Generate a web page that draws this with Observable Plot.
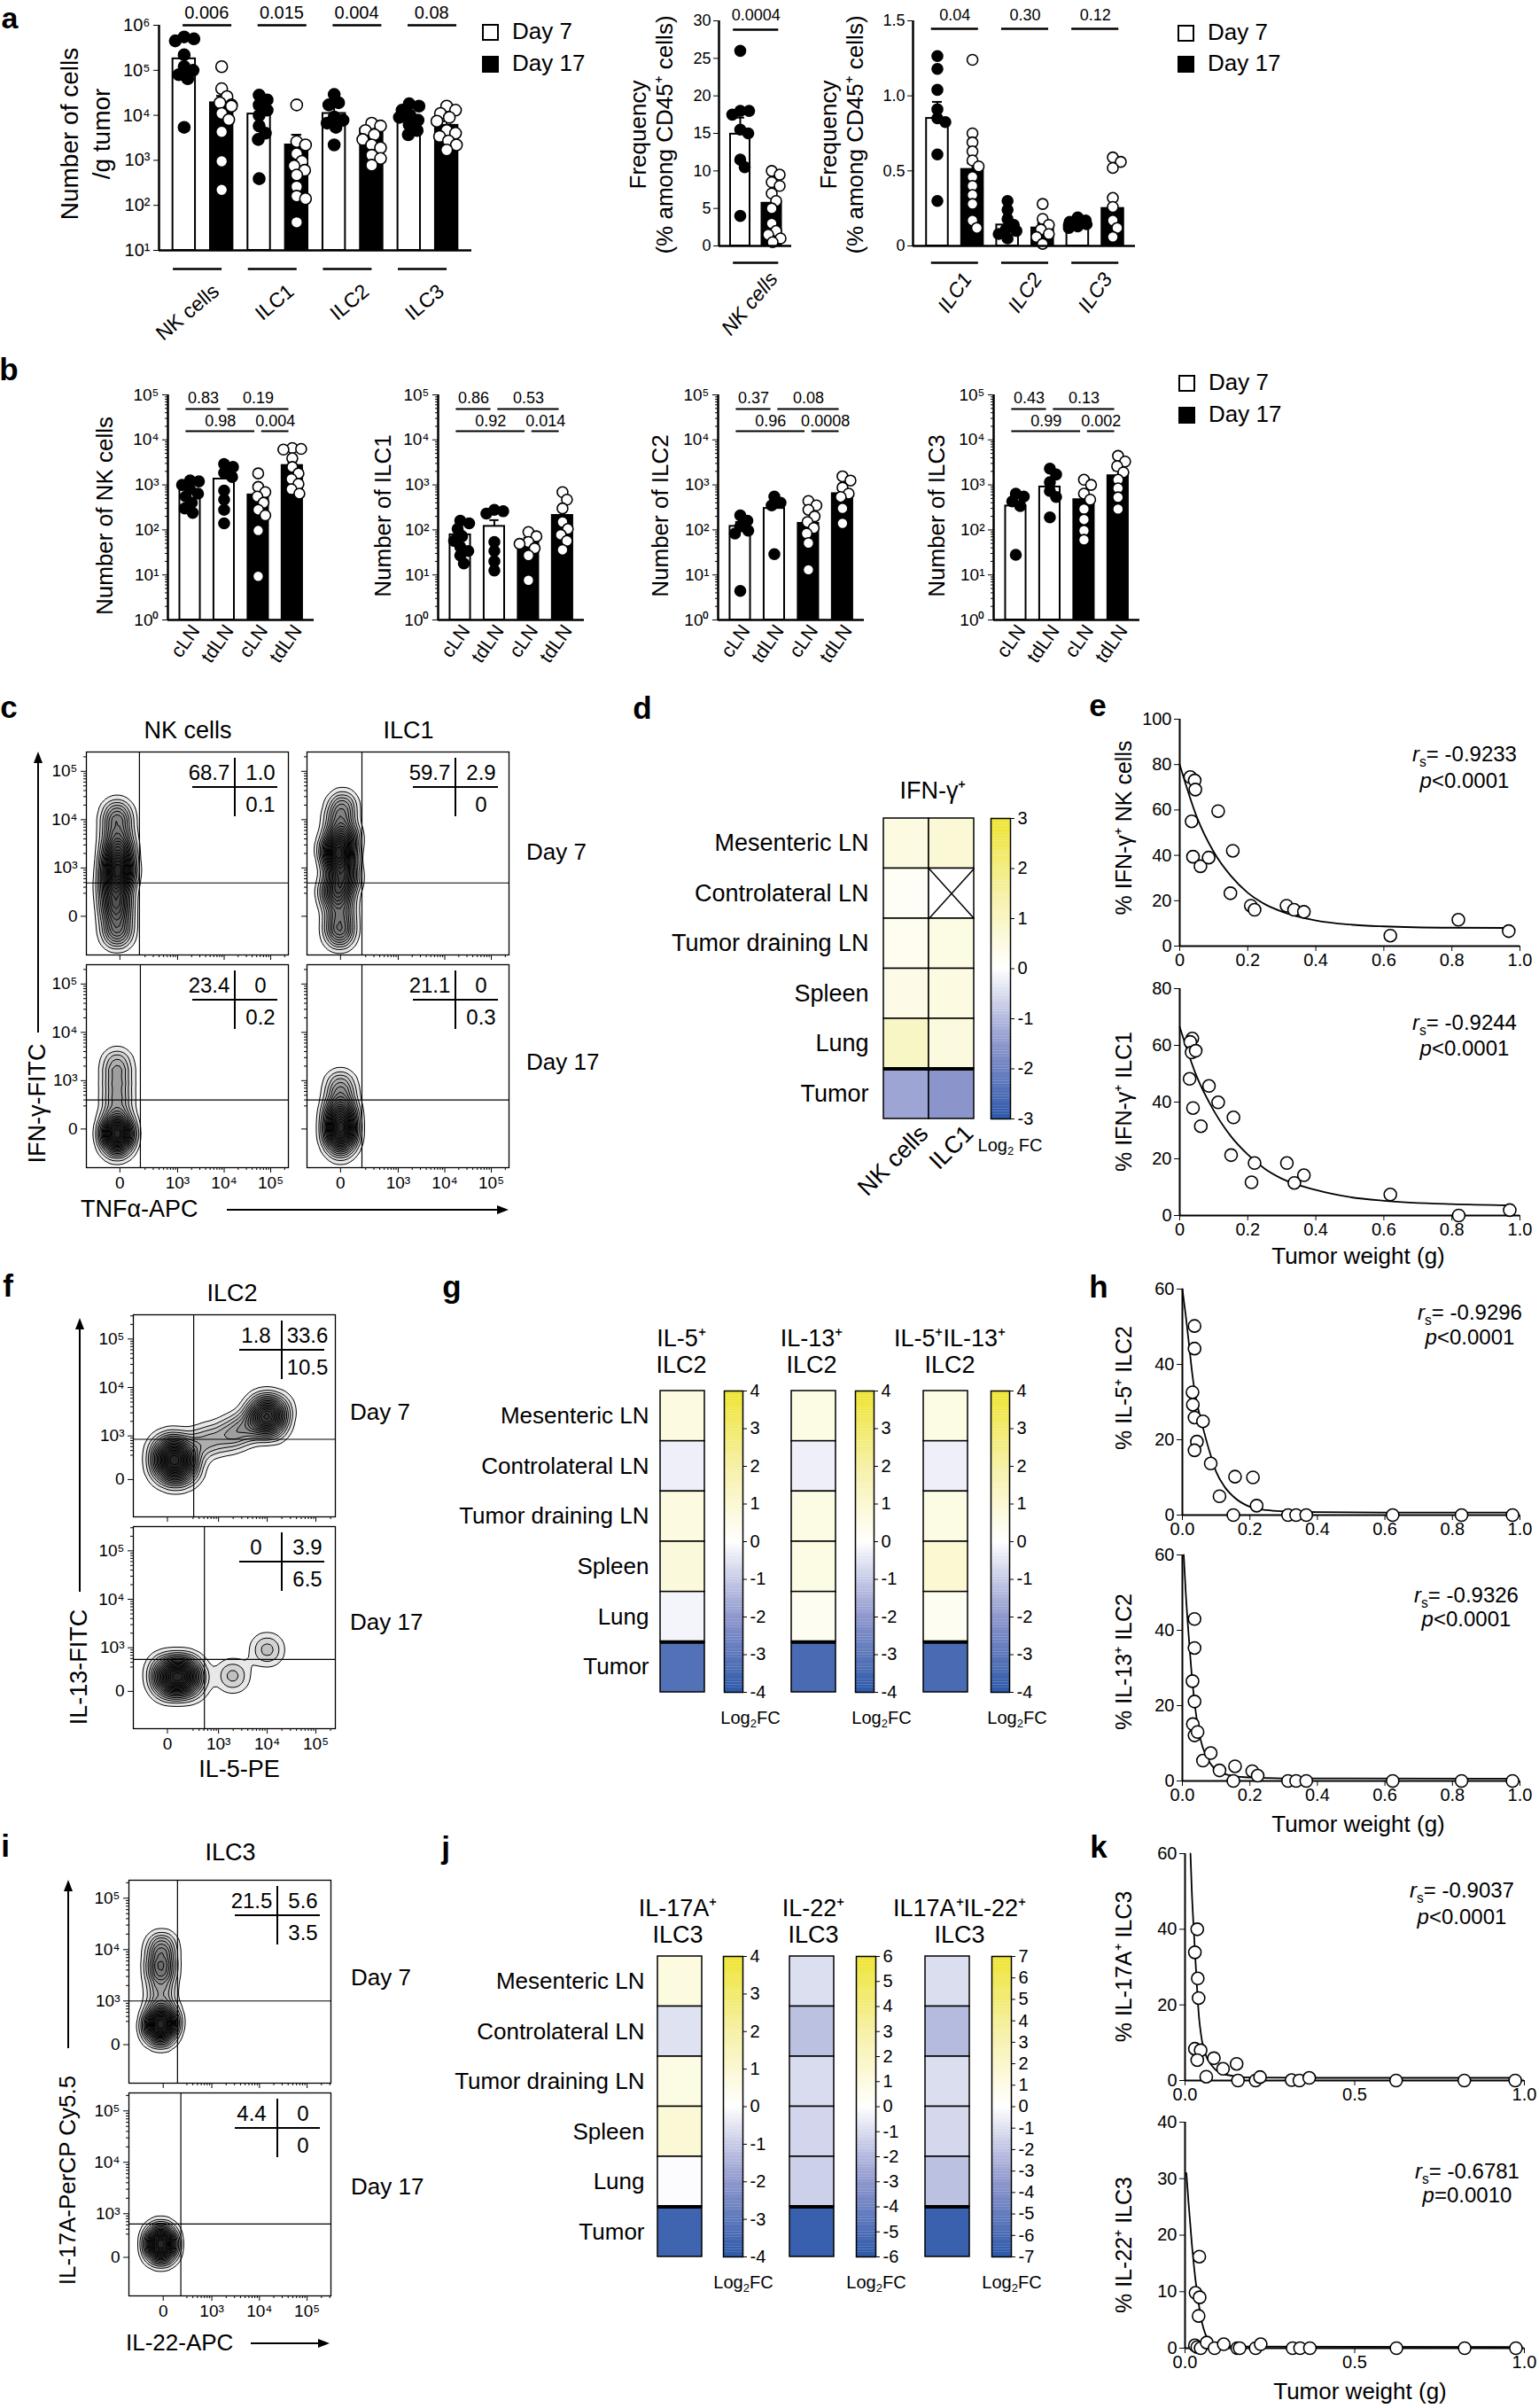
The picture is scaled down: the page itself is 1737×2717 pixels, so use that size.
<!DOCTYPE html>
<html><head><meta charset="utf-8">
<script src="https://cdn.jsdelivr.net/npm/d3@7"></script>
<script src="https://cdn.jsdelivr.net/npm/@observablehq/plot@0.6"></script>
<style>
html,body{margin:0;padding:0;background:#fff;}
#root{position:relative;width:1737px;height:2717px;overflow:hidden;background:#fff;font-family:"Liberation Sans",Arial,Helvetica,sans-serif;color:#000;}
.t{position:absolute;white-space:nowrap;line-height:1.15;text-align:center;}
.t sub{font-size:0.65em;vertical-align:-0.35em;line-height:0;}
.sq{position:absolute;width:19px;height:19px;box-sizing:border-box;border:2.5px solid #000;}
</style></head><body><div id="root"></div>
<script>
// ================= DATA =================
// a — counts per g tumor
const aCells = ["NK cells", "ILC1", "ILC2", "ILC3"];
const aDays = ["Day 7", "Day 17"];
const aCountPts = [
  [[5.5e5,5e5,4.5e5,2.2e5,1.2e5,1e5,8e4,6.5e4,5.4e3],[1.2e5,3.9e4,2.6e4,1.9e4,1.7e4,1.6e4,1.1e4,8e3,4.3e3,9.5e2,2.2e2]],
  [[2.8e4,2.2e4,1.7e4,1.3e4,1e4,5.8e3,4e3,2.9e3,3.9e2],[1.7e4,2.6e3,2.2e3,1.4e3,9.5e2,7.5e2,6e2,4.7e2,2.6e2,1.6e2,1.4e2,4.2e1]],
  [[2.9e4,1.9e4,1.7e4,9.2e3,7.8e3,6.7e3,5.4e3,2.2e3],[6.7e3,5.8e3,4.6e3,3.7e3,2.9e3,2.2e3,1.9e3,1.3e3,1.1e3,7.8e2]],
  [[1.8e4,1.6e4,1.3e4,1e4,9e3,7.8e3,6.2e3,4.6e3,3.7e3],[1.6e4,1.3e4,1.1e4,9e3,7.4e3,4.6e3,4e3,3.4e3,2.7e3,2.2e3,1.7e3]]
];
const aCountMean = [[1.8e5,1.9e4],[1.07e4,2.2e3],[1.1e4,5e3],[9e3,6e3]];
const aCountSem = [[7e4,8e3],[3.5e3,1.5e3],[5e3,7e2],[1.8e3,1.4e3]];
const aCountP = ["0.006","0.015","0.004","0.08"];
// a — frequency among CD45+
const aFreqNKPts = [[26,18,18,17.5,15.5,15,11.5,10.5,4],[10,9.5,8.5,8,7,6,5,3,2,1.5,1,0.5]];
const aFreqNKMean = [14.9,5.7];
const aFreqNKSem = [2.2,1.0];
const aFreqNKP = ["0.0004"];
const aFreqILC = ["ILC1","ILC2","ILC3"];
const aFreqILCPts = [
  [[1.265,1.18,1.04,0.91,0.85,0.825,0.61,0.3],[1.24,0.75,0.69,0.63,0.57,0.53,0.46,0.4,0.34,0.28,0.17,0.12]],
  [[0.3,0.24,0.18,0.14,0.11,0.08,0.05,0.1],[0.28,0.18,0.14,0.11,0.08,0.06,0.014]],
  [[0.19,0.17,0.16,0.145,0.13,0.12,0.14],[0.59,0.56,0.52,0.32,0.26,0.17,0.12,0.06]]
];
const aFreqILCMean = [[0.85,0.51],[0.14,0.12],[0.14,0.25]];
const aFreqILCSem = [[0.11,0.04],[0.035,0.03],[0.01,0.07]];
const aFreqILCP = ["0.04","0.30","0.12"];
// b — lymph nodes
const bCells = ["NK cells","ILC1","ILC2","ILC3"];
const bSites = ["cLN","tdLN","cLN","tdLN"];
const bPts = [
  [[1.26e3,1.2e3,1e3,8e2,6.4e2,5.5e2,4e2,3e2,2.4e2],[2.9e3,2.5e3,1.85e3,1.5e3,7.5e2,4.7e2,2.8e2,1.4e2],[1.8e3,9e2,6.9e2,5.5e2,4e2,2.8e2,2.1e2,9.7e1,9.3],[6.6e3,6.3e3,6.1e3,3.9e3,2.5e3,1.8e3,1.35e3,1.05e3,8e2,6.4e2]],
  [[1.6e2,1.4e2,1.05e2,7.2e1,5.7e1,4.2e1,3.4e1,2.7e1,1.8e1],[2.8e2,2.6e2,2.3e2,5.4e1,3.4e1,2e1,1.25e1],[9e1,7.2e1,5.4e1,4.9e1,3.9e1,2.7e1,7.6],[6.9e2,4.7e2,3e2,1.5e2,1.05e2,7.8e1,5.7e1,3.6e1]],
  [[2.1e2,1.6e2,1.2e2,9.6e1,8.3e1,4.4],[5.5e2,4e2,3.5e2,2.9e1],[4.4e2,3.5e2,2.8e2,2e2,1.5e2,1.1e2,8.3e1,5.1e1,1.3e1],[1.55e3,1.25e3,8.7e2,6.4e2,5.4e2,3e2,1.4e2]],
  [[6.4e2,5.5e2,4.3e2,3.4e2,2.8e1],[2.3e3,1.7e3,1.15e3,7.3e2,5.4e2,1.9e2],[1.3e3,1e3,6.4e2,4.7e2,2.9e2,1.7e2,9.6e1,6e1],[4.4e3,3.3e3,2.6e3,1.9e3,1.3e3,8.4e2,5.3e2,2.9e2]]
];
const bMean = [[7.7e2,1.35e3,6e2,2.7e3],[7.8e1,1.2e2,5.7e1,2.1e2],[1.2e2,3e2,1.4e2,6.4e2],[3.4e2,9e2,4.7e2,1.6e3]];
const bSem = [[1.3e2,4.5e2,2e2,7e2],[1.6e1,4.5e1,1e1,8e1],[3e1,8e1,4e1,1.4e2],[9e1,2.6e2,1.2e2,5e2]];
const bP1 = [["0.83","0.19"],["0.86","0.53"],["0.37","0.08"],["0.43","0.13"]];
const bP2 = [["0.98","0.004"],["0.92","0.014"],["0.96","0.0008"],["0.99","0.002"]];
const bPairs1 = [[0,1],[1,3]];
const bPairs2 = [[0,2],[2,3]];
// c, f, i — flow cytometry (events in display units, quadrant gates, quadrant %)
const cCols = ["NK cells","ILC1"];
const flowDays = ["Day 7","Day 17"];
const cEvents = [
  [[[1.7,1.8],[1.7,2.1],[1.7,2.4],[1.7,2.7],[1.7,3.0],[1.7,3.3],[1.7,3.6],[1.7,3.9],[1.62,2.6],[1.78,2.9],[1.7,2.9],[1.7,3.1],[1.65,2.2],[1.75,3.4],[1.7,4.15],[1.7,1.6]],
   [[1.74,1.8],[1.74,2.1],[1.74,2.4],[1.74,2.7],[1.74,3.0],[1.74,3.2],[1.74,3.2],[1.74,3.4],[1.74,3.7],[1.74,4.0],[1.6,2.5],[1.88,2.8],[1.6,3.4],[1.88,3.6],[1.8,4.3],[1.74,1.6]]],
  [[[1.7,1.6],[1.7,1.8],[1.7,1.8],[1.7,2.0],[1.7,2.0],[1.7,2.2],[1.62,1.9],[1.78,1.9],[1.7,2.5],[1.7,2.8],[1.7,3.1],[1.7,3.4]],
   [[1.76,1.6],[1.76,1.8],[1.76,2.0],[1.76,2.0],[1.76,2.2],[1.76,2.45],[1.76,2.7],[1.76,2.95],[1.65,1.9],[1.87,1.9],[1.68,2.3],[1.84,2.3]]]
];
const cGates = [[[2.18,2.69],[2.22,2.69]],[[2.2,2.6],[2.22,2.6]]];
const cStats = [[["68.7","1.0","0.1"],["59.7","2.9","0"]],[["23.4","0","0.2"],["21.1","0","0.3"]]];
const fEvents = [
  [[2.1,2.5],[2.1,2.5],[2.1,2.5],[1.85,2.35],[2.35,2.65],[2.1,2.2],[2.1,2.8],[1.85,2.7],[2.35,2.3],[2.75,2.9],[3.2,3.0],[3.5,3.15],[3.8,3.3],[4.0,3.4],[4.0,3.4],[4.2,3.55],[3.9,3.6],[4.1,3.2]],
  [[2.16,2.4],[2.16,2.4],[2.16,2.4],[1.85,2.35],[2.45,2.45],[2.0,2.2],[2.3,2.6],[1.9,2.6],[2.4,2.2],[3.29,2.42],[4.0,2.96]]
];
const fGates = [[2.49,2.93],[2.71,2.76]];
const fStats = [["1.8","33.6","10.5"],["0","3.9","6.5"]];
const iEvents = [
  [[1.93,2.56],[1.93,2.56],[1.93,2.56],[1.93,2.3],[1.93,2.85],[1.8,2.5],[2.06,2.6],[1.93,3.2],[1.93,3.6],[1.93,3.6],[1.93,3.9],[1.95,4.1]],
  [[1.93,2.41],[1.93,2.41],[1.93,2.41],[1.93,2.2],[1.93,2.65],[1.85,2.4],[2.01,2.4]]
];
const iGates = [[2.28,3.0],[2.35,2.8]];
const iStats = [["21.5","5.6","3.5"],["4.4","0","0"]];
// d, g, j — heatmaps (log2 FC)
const sites = ["Mesenteric LN","Controlateral LN","Tumor draining LN","Spleen","Lung","Tumor"];
const dCols = ["NK cells","ILC1"];
const dVals = [[0.5,0.15,0.25,0.4,0.95,-1.3],[0.7,null,0.45,0.5,0.55,-1.55]];
const dMax = 3;
const gTitles = [["IL-5⁺","ILC2"],["IL-13⁺","ILC2"],["IL-5⁺IL-13⁺","ILC2"]];
const gVals = [[0.7,-0.3,0.7,0.8,-0.2,-3.2],[0.6,-0.3,0.6,0.6,0.3,-3.4],[0.6,-0.3,0.6,1.0,0.3,-3.4]];
const gMax = [4,4,4];
const jTitles = [["IL-17A⁺","ILC3"],["IL-22⁺","ILC3"],["IL17A⁺IL-22⁺","ILC3"]];
const jVals = [[0.7,-0.56,0.6,0.9,-0.05,-3.6],[-0.92,-1.8,-1.0,-1.2,-1.35,-5.6],[-1.1,-2.3,-1.1,-1.3,-2.1,-6.5]];
const jMax = [4,6,7];
// e, h, k — correlations with tumour weight
const eNKPts = [[0.031,74.5],[0.044,73],[0.046,69],[0.035,55],[0.113,59.5],[0.039,39.4],[0.061,35.2],[0.085,39],[0.156,42],[0.149,23.3],[0.209,17.8],[0.22,16],[0.314,17.8],[0.336,16],[0.365,15.1],[0.619,4.6],[0.819,11.6],[0.967,6.6]];
const eNKFit = [[0,80],[0.05,57],[0.1,41.5],[0.15,31],[0.2,23.5],[0.25,18.5],[0.3,15.2],[0.4,11.3],[0.5,9.5],[0.6,8.7],[0.8,8.1],[0.97,8]];
const eILC1Pts = [[0.037,62.4],[0.031,61.2],[0.035,57.5],[0.047,58.1],[0.029,48.2],[0.086,45.7],[0.113,39.9],[0.039,37.9],[0.062,31.5],[0.158,34.6],[0.151,21.3],[0.22,18.5],[0.211,11.7],[0.315,18.5],[0.337,11.5],[0.365,14.2],[0.619,7.4],[0.82,0],[0.97,1.9]];
const eILC1Fit = [[0,66.5],[0.05,49],[0.1,37],[0.15,28],[0.2,21.5],[0.25,16.5],[0.3,13],[0.4,9],[0.5,6.5],[0.6,5.2],[0.8,4],[0.97,3.6]];
const hIL5Pts = [[0.036,50.2],[0.036,44.2],[0.03,32.6],[0.031,29.3],[0.036,25.9],[0.061,24.9],[0.043,19.5],[0.036,17.2],[0.084,13.7],[0.156,10.2],[0.209,10],[0.11,5],[0.22,2.5],[0.151,0],[0.313,0],[0.337,0],[0.367,0],[0.623,0],[0.827,0],[0.978,0]];
const hIL5Fit = [[0,60],[0.01,53],[0.02,45],[0.03,37],[0.04,31],[0.05,27],[0.06,23.5],[0.08,17],[0.1,11.5],[0.125,7.5],[0.15,5],[0.2,2.2],[0.25,1.3],[0.3,1],[0.4,0.8],[0.6,0.7],[0.978,0.7]];
const hIL13Pts = [[0.036,43],[0.036,35.3],[0.03,26.5],[0.036,21.1],[0.031,15.1],[0.036,12.1],[0.045,13],[0.061,5.4],[0.084,7.4],[0.11,2.8],[0.156,3.9],[0.207,2.6],[0.223,1.4],[0.151,0],[0.313,0],[0.337,0],[0.367,0],[0.623,0],[0.827,0],[0.978,0]];
const hIL13Fit = [[0.004,60],[0.01,50],[0.02,37],[0.03,26],[0.04,18],[0.05,12.5],[0.06,9],[0.08,5],[0.1,3],[0.15,1.3],[0.2,0.9],[0.3,0.7],[0.978,0.6]];
const kIL17Pts = [[0.036,40],[0.029,33.9],[0.0375,27],[0.04,21.8],[0.029,8.4],[0.046,8],[0.036,5.4],[0.085,5.9],[0.0625,1],[0.112,3.1],[0.152,4.4],[0.156,0],[0.208,0],[0.221,0.9],[0.314,0.1],[0.337,0],[0.366,0.7],[0.622,0],[0.823,0],[0.973,0]];
const kIL17Fit = [[0.016,60],[0.02,50],[0.025,41],[0.03,33],[0.035,25],[0.04,18],[0.05,10.5],[0.06,7],[0.08,3.8],[0.1,2.2],[0.15,1.1],[0.2,0.8],[0.4,0.7],[0.973,0.7]];
const kIL22Pts = [[0.042,16.2],[0.031,9.8],[0.043,9],[0.04,5.7],[0.029,0.5],[0.036,0.2],[0.046,0],[0.064,1],[0.087,0],[0.114,0.7],[0.154,0],[0.161,0],[0.208,0],[0.223,0.7],[0.317,0],[0.339,0],[0.368,0],[0.623,0],[0.824,0],[0.975,0]];
const kIL22Fit = [[0.004,31],[0.01,26],[0.02,18.5],[0.03,12.5],[0.04,8],[0.05,4.5],[0.06,2.5],[0.08,0.8],[0.12,0.3],[0.975,0.2]];
const corrStats = [["-0.9233","&lt;0.0001"],["-0.9244","&lt;0.0001"],["-0.9296","&lt;0.0001"],["-0.9326","&lt;0.0001"],["-0.9037","&lt;0.0001"],["-0.6781","=0.0010"]];

// ================= HELPERS =================
const FONT = '"Liberation Sans", Arial, Helvetica, sans-serif';
const SUP = "⁰¹²³⁴⁵⁶⁷⁸⁹";
const pow10 = p => "10" + SUP[p];
const root = document.getElementById("root");
const crosses = [];

function txt(html, x, y, o = {}) {
  const d = document.createElement("div");
  d.className = "t";
  d.innerHTML = html;
  d.style.left = x + "px"; d.style.top = y + "px";
  d.style.fontSize = (o.size || 20) + "px";
  if (o.bold) d.style.fontWeight = "bold";
  if (o.italic) d.style.fontStyle = "italic";
  if (o.lh) d.style.lineHeight = o.lh;
  const tx = o.anchor === "start" ? "0" : o.anchor === "end" ? "-100%" : "-50%";
  d.style.transform = `translate(${tx},-50%)` + (o.rotate ? ` rotate(${o.rotate}deg)` : "");
  root.appendChild(d);
  return d;
}
function sq(x, y, filled) {
  const d = document.createElement("div");
  d.className = "sq";
  d.style.left = x + "px"; d.style.top = y + "px";
  d.style.background = filled ? "#000" : "#fff";
  root.appendChild(d);
}
function legend(x, y1, y2) {
  sq(x, y1 - 9.5, false); txt("Day 7", x + 34, y1, {size: 26, anchor: "start"});
  sq(x, y2 - 9.5, true); txt("Day 17", x + 34, y2, {size: 26, anchor: "start"});
}
function mk(fr, m, opts) {
  const [mt, mr, mb, ml] = m;
  const svg = Plot.plot({
    width: fr.w + ml + mr, height: fr.h + mt + mb,
    marginTop: mt, marginRight: mr, marginBottom: mb, marginLeft: ml,
    style: {fontFamily: FONT, fontSize: "19px", overflow: "visible", background: "transparent", maxWidth: "none"},
    ...opts
  });
  svg.style.position = "absolute";
  svg.style.left = (fr.x - ml) + "px";
  svg.style.top = (fr.y - mt) + "px";
  root.appendChild(svg);
  return svg;
}
function swarm(vals, ys, r, maxOff, tight = 0.8) {
  const n = vals.length, py = vals.map(v => ys(v)), off = new Array(n).fill(0);
  const order = d3.range(n).sort((a, b) => py[a] - py[b]);
  const placed = [], D = 2 * r * tight;
  for (const i of order) {
    let found = false;
    for (let k = 0; k <= 2 * maxOff; k++) {
      const o = (k % 2 ? 1 : -1) * Math.ceil(k / 2);
      if (placed.every(j => Math.hypot(o - off[j], py[i] - py[j]) >= D)) { off[i] = o; found = true; break; }
    }
    if (!found) off[i] = (placed.length % 2 ? 1 : -1) * maxOff;
    placed.push(i);
  }
  return off;
}
function colorFn(m) {
  return d3.scaleLinear().domain([-m, -m / 2, 0, m / 2, m])
    .range(["#2c58a9", "#8e97cd", "#ffffff", "#f6f0a4", "#eee431"]).clamp(true);
}
function barChart(cfg) {
  const ppu = cfg.fr.w / (cfg.xd[1] - cfg.xd[0]);
  const dots = [];
  for (const b of cfg.bars) {
    const off = swarm(b.vals, cfg.ys, cfg.r, cfg.maxOff);
    b.vals.forEach((v, j) => dots.push({x: b.i + off[j] / ppu, y: v, day: b.day}));
  }
  const base = cfg.y.domain[0];
  return mk(cfg.fr, cfg.m, {
    x: {domain: cfg.xd}, y: cfg.y,
    marks: [
      Plot.rectY(cfg.bars, {x1: d => d.i - cfg.hw, x2: d => d.i + cfg.hw, y1: () => base, y2: "mean", fill: d => d.day ? "#000" : "#fff", stroke: "#000", strokeWidth: 2}),
      Plot.ruleX(cfg.bars, {x: "i", y1: "mean", y2: d => d.mean + d.sem, stroke: "#000", strokeWidth: 2}),
      Plot.ruleY(cfg.bars, {y: d => d.mean + d.sem, x1: d => d.i - cfg.hw * 0.45, x2: d => d.i + cfg.hw * 0.45, stroke: "#000", strokeWidth: 2}),
      Plot.dot(dots, {x: "x", y: "y", r: cfg.r, fill: d => d.day ? "#fff" : "#000", stroke: "#000", strokeWidth: 1.6}),
      Plot.ruleX([cfg.xd[0]], {stroke: "#000", strokeWidth: 2.5}),
      Plot.ruleY([base], {stroke: "#000", strokeWidth: 2.5}),
      ...cfg.extra
    ]
  });
}
function flow(fr, ax, pts, gate, stats, showX, showY) {
  const minorX = [], minorY = [];
  for (let d = 2; d <= 5; d++) for (let k = 2; k < 10; k++) {
    const u = d + Math.log10(k);
    if (u > ax.x0 + 0.45 && u < ax.xd[1]) minorX.push(u);
    if (u > ax.y0 + 0.45 && u < ax.yd[1]) minorY.push(u);
  }
  const fx = v => v === ax.x0 ? "0" : pow10(v);
  const fy = v => v === ax.y0 ? "0" : pow10(v);
  mk(fr, [2, 2, 45, 55], {
    x: {domain: ax.xd}, y: {domain: ax.yd},
    marks: [
      Plot.density(pts, {x: d => d[0], y: d => d[1], bandwidth: ax.bw, thresholds: 20, fill: "#000", fillOpacity: 0.09, stroke: "#000", strokeWidth: 1, clip: true}),
      Plot.ruleX([gate[0]], {stroke: "#000", strokeWidth: 1.2}),
      Plot.ruleY([gate[1]], {stroke: "#000", strokeWidth: 1.2}),
      Plot.frame({stroke: "#000", strokeWidth: 1.3}),
      Plot.axisX([ax.x0, 3, 4, 5], {tickSize: 6, tickPadding: 4, tickFormat: showX ? fx : () => "", fontSize: 19, label: null}),
      Plot.axisX(minorX, {tickSize: 3, tickFormat: () => "", label: null}),
      Plot.axisY([ax.y0, 3, 4, 5], {tickSize: 6, tickPadding: 4, tickFormat: showY ? fy : () => "", fontSize: 19, label: null}),
      Plot.axisY(minorY, {tickSize: 3, tickFormat: () => "", label: null})
    ]
  });
  const cx = fr.x + 168, cy = fr.y + 40;
  crosses.push([cx, cy]);
  txt(stats[0], cx - 29, cy - 16, {size: 24});
  txt(stats[1], cx + 29, cy - 16, {size: 24});
  txt(stats[2], cx + 29, cy + 20, {size: 24});
}
function heat(fr, vals, m, opt = {}) {
  const n = sites.length, nc = vals.length, cf = colorFn(m);
  const cells = [];
  vals.forEach((col, c) => col.forEach((v, r) => cells.push({c, r, v})));
  const miss = cells.filter(d => d.v == null);
  const marks = [
    Plot.rect(cells, {x1: "c", x2: d => d.c + 1, y1: "r", y2: d => d.r + 1, fill: d => d.v == null ? "#ffffff" : cf(d.v), stroke: "#000", strokeWidth: 1.5}),
    Plot.link(miss, {x1: "c", y1: "r", x2: d => d.c + 1, y2: d => d.r + 1, stroke: "#000", strokeWidth: 1.5}),
    Plot.link(miss, {x1: "c", y1: d => d.r + 1, x2: d => d.c + 1, y2: "r", stroke: "#000", strokeWidth: 1.5}),
    Plot.ruleY([n - 1], {stroke: "#000", strokeWidth: 4})
  ];
  const x = {domain: [0, nc]}, y = {domain: [n, 0]};
  if (opt.rows) marks.push(Plot.axisY(d3.range(n).map(r => r + 0.5), {tickFormat: v => sites[Math.floor(v)], tickSize: 0, tickPadding: opt.pad, fontSize: opt.rowSize, label: null}));
  else y.axis = null;
  if (opt.cols) marks.push(Plot.axisX(d3.range(nc).map(c => c + 0.5), {tickFormat: v => opt.cols[Math.floor(v)], tickSize: 0, tickPadding: 12, tickRotate: -45, dx: 20, fontSize: 27, label: null}));
  else x.axis = null;
  mk(fr, [4, 4, opt.cols ? 130 : 4, opt.rows ? 260 : 4], {x, y, marks});
}
function cbar(fr, m) {
  const step = m / 60, cf = colorFn(m);
  const ramp = d3.range(-m, m, step);
  mk(fr, [4, 45, 4, 4], {
    x: {domain: [0, 1], axis: null}, y: {domain: [-m, m]},
    marks: [
      Plot.rect(ramp, {x1: () => 0, x2: () => 1, y1: d => d, y2: d => d + step * 1.05, fill: d => cf(d + step / 2)}),
      Plot.frame({stroke: "#000", strokeWidth: 1.5}),
      Plot.axisY(d3.range(-m, m + 1), {anchor: "right", tickSize: 4, tickPadding: 4, fontSize: 20, tickFormat: d => String(d), label: null})
    ]
  });
}
function scat(fr, yd, yt, xt, xfmt, pts, fit) {
  mk(fr, [12, 25, 40, 60], {
    x: {domain: [0, 1]}, y: {domain: yd},
    marks: [
      Plot.ruleX([0], {stroke: "#000", strokeWidth: 2}),
      Plot.ruleY([0], {stroke: "#000", strokeWidth: 2}),
      Plot.line(fit, {x: d => d[0], y: d => d[1], curve: "monotone-x", stroke: "#000", strokeWidth: 1.8}),
      Plot.dot(pts, {x: d => d[0], y: d => d[1], r: 7, fill: "#fff", stroke: "#000", strokeWidth: 1.6}),
      Plot.axisX(xt, {tickSize: 6, tickPadding: 2, tickFormat: xfmt, fontSize: 20, label: null}),
      Plot.axisY(yt, {tickSize: 6, tickPadding: 3, fontSize: 20, label: null})
    ]
  });
}
function ann(cx, y1, y2, s) {
  txt(`<i>r</i><sub>s</sub>= ${s[0]}`, cx, y1, {size: 24});
  txt(`<i>p</i>${s[1]}`, cx, y2, {size: 24});
}

// ================= PANEL a =================
txt("a", 11, 21, {size: 34, bold: true});
{
  const fr = {x: 179, y: 28, w: 353, h: 254};
  const xd = [-0.67, 7.67];
  const bars = [];
  aCells.forEach((c, g) => aDays.forEach((_, k) => bars.push({i: g * 2 + k, day: k, mean: aCountMean[g][k], sem: aCountSem[g][k], vals: aCountPts[g][k]})));
  const G = aCells.map((c, g) => ({c: g * 2 + 0.5, p: aCountP[g]}));
  barChart({fr, xd, m: [34, 12, 130, 80], y: {type: "log", domain: [10, 1e6]}, ys: d3.scaleLog([10, 1e6], [fr.h, 0]), bars, r: 6.5, maxOff: 11, hw: 0.3, extra: [
    Plot.ruleY(G, {y: () => 1e6, x1: d => d.c - 0.53, x2: d => d.c + 0.77, stroke: "#000", strokeWidth: 2.5}),
    Plot.text(G, {x: d => d.c + 0.1, y: () => 1e6, dy: -14, text: "p", fontSize: 20}),
    Plot.ruleY(G, {y: () => 10, dy: 21, x1: d => d.c - 0.79, x2: d => d.c + 0.51, stroke: "#000", strokeWidth: 2.5}),
    Plot.axisY([1e1, 1e2, 1e3, 1e4, 1e5, 1e6], {tickFormat: d => pow10(Math.round(Math.log10(d))), tickSize: 6, tickPadding: 4, fontSize: 20, label: null}),
    Plot.axisX(G.map(d => d.c), {tickFormat: d => aCells[Math.round((d - 0.5) / 2)], tickSize: 0, tickPadding: 43, tickRotate: -40, dx: 15, fontSize: 23, label: null})
  ]});
  txt("Number of cells<br>/g tumor", 97, 151, {size: 28, rotate: -90, lh: "36px"});
  legend(544, 36, 72);
}
{
  const fr = {x: 811, y: 23, w: 82, h: 254};
  const bars = aFreqNKPts.map((vals, k) => ({i: k, day: k, mean: aFreqNKMean[k], sem: aFreqNKSem[k], vals}));
  const G = [{c: 0.5, p: aFreqNKP[0]}];
  barChart({fr, xd: [-0.676, 1.634], m: [30, 10, 120, 45], y: {domain: [0, 30]}, ys: d3.scaleLinear([0, 30], [fr.h, 0]), bars, r: 6, maxOff: 10, hw: 0.31, extra: [
    Plot.ruleY(G, {y: () => 30, dy: 10, x1: d => d.c - 0.72, x2: d => d.c + 0.72, stroke: "#000", strokeWidth: 2.5}),
    Plot.text(G, {x: "c", y: () => 30, dy: -6, text: "p", fontSize: 18}),
    Plot.ruleY(G, {y: () => 0, dy: 19, x1: d => d.c - 0.72, x2: d => d.c + 0.72, stroke: "#000", strokeWidth: 2.5}),
    Plot.axisY([0, 5, 10, 15, 20, 25, 30], {tickSize: 6, tickPadding: 3, fontSize: 18, label: null}),
    Plot.axisX([0.5], {tickFormat: () => "NK cells", tickSize: 0, tickPadding: 33, tickRotate: -50, dx: 20, fontSize: 23, fontStyle: "italic", label: null})
  ]});
  txt("Frequency<br>(% among CD45⁺ cells)", 735, 152, {size: 26, rotate: -90, lh: "30px"});
}
{
  const fr = {x: 1030, y: 23, w: 251, h: 254};
  const bars = [];
  aFreqILC.forEach((c, g) => aDays.forEach((_, k) => bars.push({i: g * 2 + k, day: k, mean: aFreqILCMean[g][k], sem: aFreqILCSem[g][k], vals: aFreqILCPts[g][k]})));
  const G = aFreqILC.map((c, g) => ({c: g * 2 + 0.5, p: aFreqILCP[g]}));
  barChart({fr, xd: [-0.694, 5.644], m: [30, 10, 120, 45], y: {domain: [0, 1.5]}, ys: d3.scaleLinear([0, 1.5], [fr.h, 0]), bars, r: 6, maxOff: 10, hw: 0.31, extra: [
    Plot.ruleY(G, {y: () => 1.5, dy: 9, x1: d => d.c - 0.67, x2: d => d.c + 0.67, stroke: "#000", strokeWidth: 2.5}),
    Plot.text(G, {x: "c", y: () => 1.5, dy: -6, text: "p", fontSize: 18}),
    Plot.ruleY(G, {y: () => 0, dy: 19, x1: d => d.c - 0.67, x2: d => d.c + 0.67, stroke: "#000", strokeWidth: 2.5}),
    Plot.axisY([0, 0.5, 1, 1.5], {tickSize: 6, tickPadding: 3, fontSize: 18, tickFormat: d => d === 0 ? "0" : d.toFixed(1), label: null}),
    Plot.axisX(G.map(d => d.c), {tickFormat: d => aFreqILC[Math.round((d - 0.5) / 2)], tickSize: 0, tickPadding: 33, tickRotate: -55, dx: 14, fontSize: 23, fontStyle: "italic", label: null})
  ]});
  txt("Frequency<br>(% among CD45⁺ cells)", 950, 152, {size: 26, rotate: -90, lh: "30px"});
  legend(1329, 37, 72);
}

// ================= PANEL b =================
txt("b", 10, 417, {size: 35, bold: true});
{
  const bAxisX = [189, 494, 810, 1121];
  const bTitleX = [119, 433, 746, 1058];
  const minor = [];
  for (let p = 0; p < 5; p++) for (let k = 2; k < 10; k++) minor.push(k * 10 ** p);
  bCells.forEach((cell, n) => {
    const fr = {x: bAxisX[n], y: 445, w: 165, h: 254};
    const bars = bSites.map((s, i) => ({i, day: i >= 2 ? 1 : 0, mean: bMean[n][i], sem: bSem[n][i], vals: bPts[n][i]}));
    const row1 = bPairs1.map(([a, b], k) => ({x1: a - 0.12 + (k ? 0.22 : 0), x2: b - 0.1, p: bP1[n][k]}));
    const row2 = bPairs2.map(([a, b], k) => ({x1: a - 0.12 + (k ? 0.22 : 0), x2: b - 0.1, p: bP2[n][k]}));
    barChart({fr, xd: [-0.65, 3.64], m: [12, 10, 70, 60], y: {type: "log", domain: [1, 1e5]}, ys: d3.scaleLog([1, 1e5], [fr.h, 0]), bars, r: 6, maxOff: 10, hw: 0.3, extra: [
      Plot.ruleY(row1, {y: () => 1e5, dy: 16, x1: "x1", x2: "x2", stroke: "#000", strokeWidth: 2}),
      Plot.text(row1, {x: d => (d.x1 + d.x2) / 2, y: () => 1e5, dy: 4, text: "p", fontSize: 18}),
      Plot.ruleY(row2, {y: () => 1e5, dy: 41, x1: "x1", x2: "x2", stroke: "#000", strokeWidth: 2}),
      Plot.text(row2, {x: d => (d.x1 + d.x2) / 2, y: () => 1e5, dy: 30, text: "p", fontSize: 18}),
      Plot.axisY([1, 10, 100, 1e3, 1e4, 1e5], {tickFormat: d => pow10(Math.round(Math.log10(d))), tickSize: 6, tickPadding: 4, fontSize: 19, label: null}),
      Plot.axisY(minor, {tickSize: 3, tickFormat: () => "", label: null}),
      Plot.axisX([0, 1, 2, 3], {tickFormat: i => bSites[i], tickSize: 0, tickPadding: 8, tickRotate: -55, dx: 6, fontSize: 22, label: null})
    ]});
    txt("Number of " + cell, bTitleX[n], 582, {size: 26, rotate: -90});
  });
  legend(1330, 432, 468);
}

// ================= PANEL c =================
txt("c", 10, 798, {size: 35, bold: true});
{
  const ax = {xd: [1.04, 5.38], x0: 1.76, yd: [1.2, 5.4], y0: 2.0, bw: 9};
  const colX = [97, 346], rowY = [848, 1088];
  cCols.forEach((c, ci) => {
    txt(c, colX[ci] + 115, 825, {size: 27});
    flowDays.forEach((d, ri) => {
      flow({x: colX[ci], y: rowY[ri], w: 228, h: 229}, ax, cEvents[ri][ci], cGates[ri][ci], cStats[ri][ci], ri === 1, ci === 0);
    });
  });
  txt(flowDays[0], 594, 962, {size: 26, anchor: "start"});
  txt(flowDays[1], 594, 1199, {size: 26, anchor: "start"});
  txt("IFN-γ-FITC", 43, 1245, {size: 27, rotate: -90});
  txt("TNFα-APC", 91, 1365, {size: 27, anchor: "start"});
}

// ================= PANEL d =================
txt("d", 725, 799, {size: 35, bold: true});
heat({x: 997, y: 923, w: 102, h: 339}, dVals, dMax, {rows: true, pad: 17, rowSize: 27, cols: dCols});
cbar({x: 1118, y: 923, w: 22, h: 339}, dMax);
txt("IFN-γ⁺", 1053, 893, {size: 27});
txt("Log<sub>2</sub> FC", 1140, 1292, {size: 20});

// ================= PANEL e =================
txt("e", 1239, 796, {size: 35, bold: true});
scat({x: 1331, y: 811, w: 384, h: 256}, [0, 100], [0, 20, 40, 60, 80, 100], [0, 0.2, 0.4, 0.6, 0.8, 1], d => d === 0 ? "0" : d.toFixed(1), eNKPts, eNKFit);
scat({x: 1331, y: 1115, w: 384, h: 256}, [0, 80], [0, 20, 40, 60, 80], [0, 0.2, 0.4, 0.6, 0.8, 1], d => d === 0 ? "0" : d.toFixed(1), eILC1Pts, eILC1Fit);
txt("% IFN-γ⁺ NK cells", 1268, 934, {size: 25, rotate: -90});
txt("% IFN-γ⁺ ILC1", 1268, 1243, {size: 25, rotate: -90});
ann(1653, 851, 881, corrStats[0]);
ann(1653, 1154, 1183, corrStats[1]);
txt("Tumor weight (g)", 1533, 1418, {size: 26});

// ================= PANEL f =================
txt("f", 9, 1451, {size: 35, bold: true});
{
  const ax = {xd: [1.25, 5.4], x0: 1.95, yd: [1.33, 5.5], y0: 2.1, bw: 10};
  const rowY = [1483, 1722];
  flowDays.forEach((d, ri) => flow({x: 150, y: rowY[ri], w: 228, h: 228}, ax, fEvents[ri], fGates[ri], fStats[ri], ri === 1, true));
  txt("ILC2", 262, 1460, {size: 27});
  txt(flowDays[0], 395, 1594, {size: 26, anchor: "start"});
  txt(flowDays[1], 395, 1831, {size: 26, anchor: "start"});
  txt("IL-13-FITC", 90, 1881, {size: 27, rotate: -90});
  txt("IL-5-PE", 270, 1997, {size: 27});
}

// ================= PANEL g =================
txt("g", 510, 1452, {size: 35, bold: true});
{
  const colX = [745, 893, 1042], cbX = [817, 965, 1118], titleX = [769, 916, 1072];
  gVals.forEach((v, k) => {
    heat({x: colX[k], y: 1569, w: 50, h: 340}, [v], gMax[k], k === 0 ? {rows: true, pad: 13, rowSize: 26} : {});
    cbar({x: cbX[k], y: 1569, w: 21, h: 340}, gMax[k]);
    txt(gTitles[k][0], titleX[k], 1511, {size: 27});
    txt(gTitles[k][1], titleX[k], 1541, {size: 27});
    txt("Log<sub>2</sub>FC", cbX[k] + 30, 1938, {size: 20});
  });
}

// ================= PANEL h =================
txt("h", 1240, 1452, {size: 35, bold: true});
scat({x: 1334, y: 1454, w: 381, h: 255}, [0, 60], [0, 20, 40, 60], [0, 0.2, 0.4, 0.6, 0.8, 1], d => d.toFixed(1), hIL5Pts, hIL5Fit);
scat({x: 1334, y: 1754, w: 381, h: 255}, [0, 60], [0, 20, 40, 60], [0, 0.2, 0.4, 0.6, 0.8, 1], d => d.toFixed(1), hIL13Pts, hIL13Fit);
txt("% IL-5⁺ ILC2", 1268, 1566, {size: 25, rotate: -90});
txt("% IL-13⁺ ILC2", 1268, 1875, {size: 25, rotate: -90});
ann(1659, 1481, 1509, corrStats[2]);
ann(1655, 1800, 1827, corrStats[3]);
txt("Tumor weight (g)", 1533, 2059, {size: 26});

// ================= PANEL i =================
txt("i", 6, 2083, {size: 35, bold: true});
{
  const ax = {xd: [1.26, 5.5], x0: 1.98, yd: [1.4, 5.35], y0: 2.15, bw: 9};
  const rowY = [2121, 2361];
  flowDays.forEach((d, ri) => flow({x: 145, y: rowY[ri], w: 228, h: 229}, ax, iEvents[ri], iGates[ri], iStats[ri], ri === 1, true));
  txt("ILC3", 260, 2091, {size: 27});
  txt(flowDays[0], 396, 2232, {size: 26, anchor: "start"});
  txt(flowDays[1], 396, 2468, {size: 26, anchor: "start"});
  txt("IL-17A-PerCP Cy5.5", 77, 2460, {size: 26, rotate: -90});
  txt("IL-22-APC", 142, 2644, {size: 26, anchor: "start"});
}

// ================= PANEL j =================
txt("j", 503, 2085, {size: 35, bold: true});
{
  const colX = [742, 891, 1044], cbX = [816, 966, 1119], titleX = [765, 918, 1083];
  jVals.forEach((v, k) => {
    heat({x: colX[k], y: 2207, w: 50, h: 339}, [v], jMax[k], k === 0 ? {rows: true, pad: 15, rowSize: 26} : {});
    cbar({x: cbX[k], y: 2207, w: 22, h: 339}, jMax[k]);
    txt(jTitles[k][0], titleX[k], 2154, {size: 27});
    txt(jTitles[k][1], titleX[k], 2184, {size: 27});
    txt("Log<sub>2</sub>FC", cbX[k] + 23, 2575, {size: 20});
  });
}

// ================= PANEL k =================
txt("k", 1240, 2084, {size: 35, bold: true});
scat({x: 1337, y: 2091, w: 383, h: 256}, [0, 60], [0, 20, 40, 60], [0, 0.5, 1], d => d.toFixed(1), kIL17Pts, kIL17Fit);
scat({x: 1337, y: 2394, w: 383, h: 255}, [0, 40], [0, 10, 20, 30, 40], [0, 0.5, 1], d => d.toFixed(1), kIL22Pts, kIL22Fit);
txt("% IL-17A⁺ ILC3", 1268, 2219, {size: 25, rotate: -90});
txt("% IL-22⁺ ILC3", 1268, 2533, {size: 25, rotate: -90});
ann(1650, 2133, 2163, corrStats[4]);
ann(1656, 2450, 2477, corrStats[5]);
txt("Tumor weight (g)", 1535, 2699, {size: 26});

// ================= overlay: quadrant crosses & axis arrows =================
{
  const ov = d3.select(root).append("svg").attr("width", 1737).attr("height", 2717)
    .style("position", "absolute").style("left", "0px").style("top", "0px").style("pointer-events", "none");
  crosses.forEach(([cx, cy]) => {
    ov.append("line").attr("x1", cx - 48).attr("x2", cx + 48).attr("y1", cy).attr("y2", cy).attr("stroke", "#000").attr("stroke-width", 2);
    ov.append("line").attr("x1", cx).attr("x2", cx).attr("y1", cy - 33).attr("y2", cy + 33).attr("stroke", "#000").attr("stroke-width", 2);
  });
  const arrowV = (x, y1, y2) => {
    ov.append("line").attr("x1", x).attr("x2", x).attr("y1", y1).attr("y2", y2 + 8).attr("stroke", "#000").attr("stroke-width", 2);
    ov.append("polygon").attr("points", `${x},${y2} ${x - 5},${y2 + 13} ${x + 5},${y2 + 13}`).attr("fill", "#000");
  };
  const arrowH = (y, x1, x2) => {
    ov.append("line").attr("x1", x1).attr("x2", x2 - 8).attr("y1", y).attr("y2", y).attr("stroke", "#000").attr("stroke-width", 2);
    ov.append("polygon").attr("points", `${x2},${y} ${x2 - 13},${y - 5} ${x2 - 13},${y + 5}`).attr("fill", "#000");
  };
  arrowV(43, 1165, 848);
  arrowH(1365, 256, 574);
  arrowV(90, 1796, 1487);
  arrowV(77, 2311, 2121);
  arrowH(2644, 283, 372);
}
</script></body></html>
